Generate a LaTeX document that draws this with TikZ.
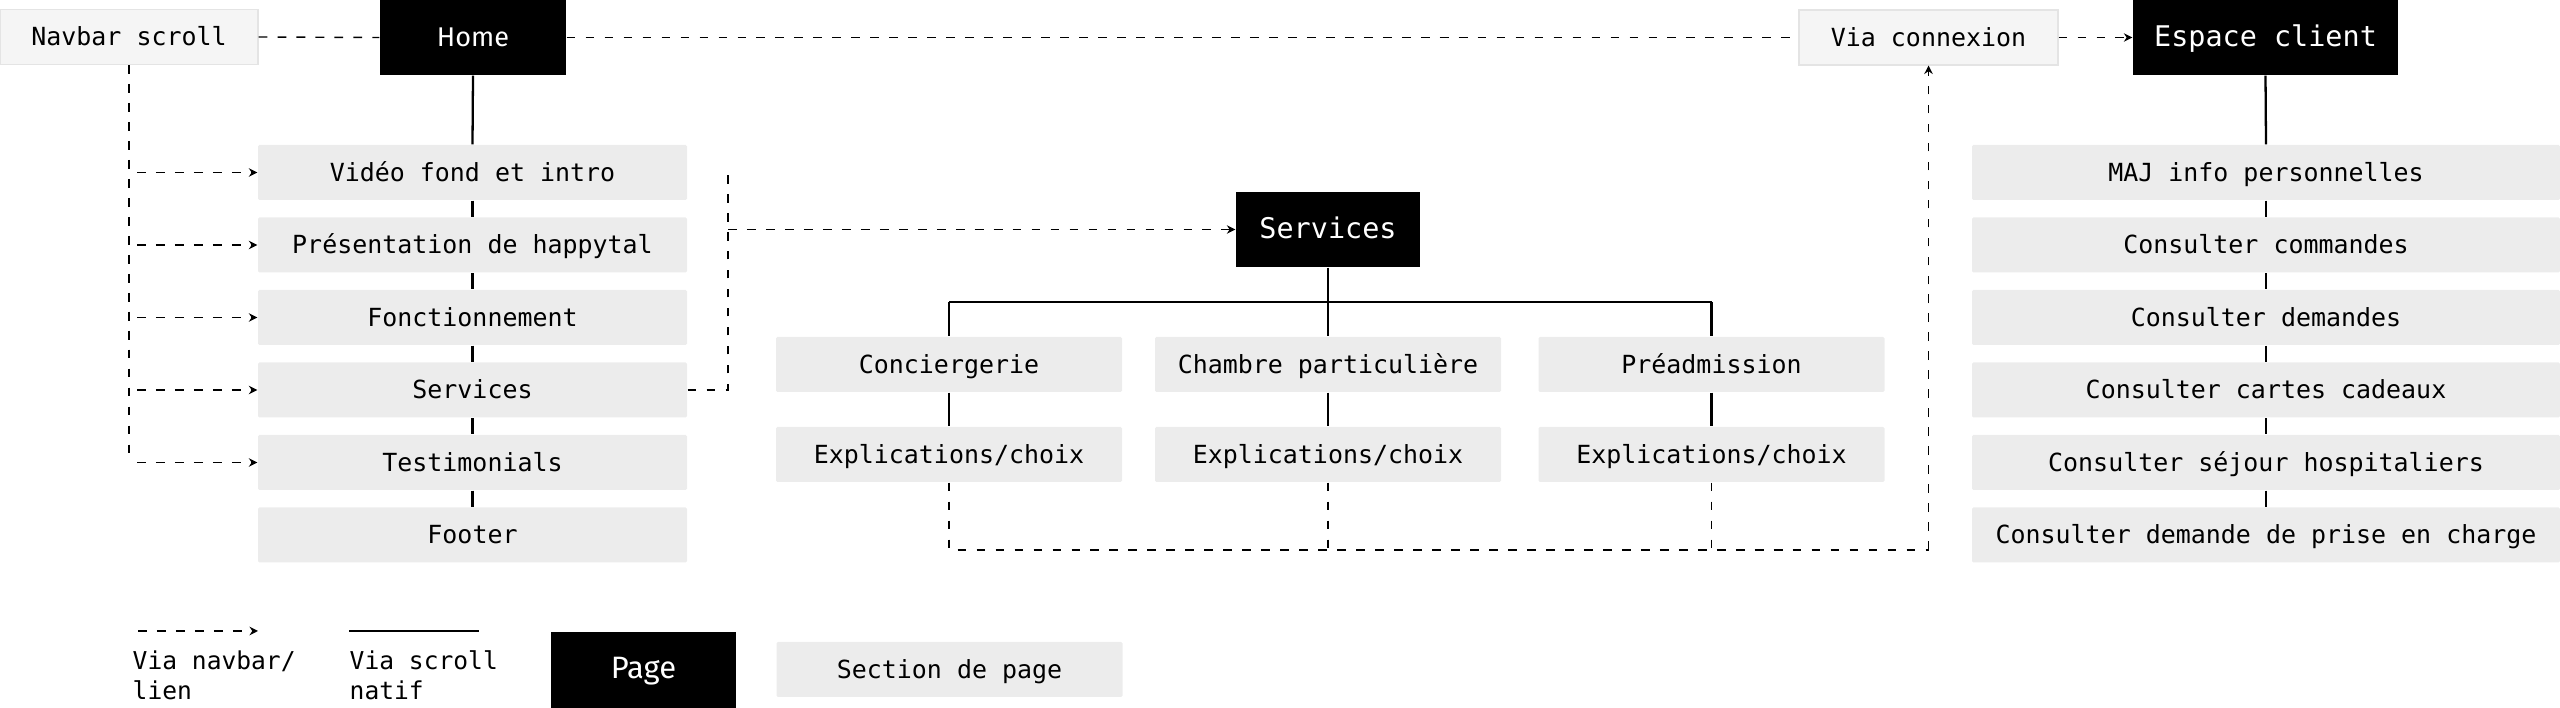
\documentclass[tikz,border=0pt]{standalone}
\usepackage{fontspec}
\setmonofont{DejaVu Sans Mono}
\newfontfamily\firafont{Fira Sans}
\usetikzlibrary{arrows.meta,positioning}

\definecolor{sectiongray}{HTML}{ECECEC}
\definecolor{notegray}{HTML}{F5F5F5}
\definecolor{noteline}{HTML}{E4E4E4}

\tikzset{
    every node/.style={font=\ttfamily\fontsize{7.1}{8.5}\selectfont, inner sep=0pt},
    boxtext/.style={text height=0.73em, text depth=0.24em},
    pagebox/.style={boxtext, fill=black, text=white, minimum height=0.75cm},
    sectionbox/.style={boxtext, fill=sectiongray, rounded corners=0.4pt, minimum height=0.55cm},
    notebox/.style={boxtext, fill=notegray, draw=noteline, line width=0.3pt, minimum height=0.55cm},
    navlink/.style={line width=0.4pt, dash pattern=on 2.5pt off 2.9pt},
    scrolllink/.style={line width=0.65pt},
}

\begin{document}
\begin{tikzpicture}[>={Stealth[length=2.4pt,width=2.4pt]}]
    \useasboundingbox (0,0) rectangle (25.6,-7.08);

    % pages
    \node[notebox, minimum width=2.58cm] (navbar) at (1.29,-0.37) {Navbar scroll};
    \node[pagebox, minimum width=1.86cm, font=\firafont\fontsize{7.7}{9}\selectfont] (home) at (4.73,-0.375) {Home};
    \node[notebox, minimum width=2.59cm] (viacx) at (19.285,-0.375) {Via connexion};
    \node[pagebox, minimum width=2.65cm, font=\ttfamily\fontsize{8.1}{9.5}\selectfont] (espace) at (22.655,-0.375) {Espace client};
    \node[pagebox, minimum width=1.84cm, font=\ttfamily\fontsize{8.1}{9.5}\selectfont] (servp) at (13.28,-2.295) {Services};

    % sections de la home
    \foreach \label [count=\i] in {Vidéo fond et intro, Présentation de happytal, Fonctionnement, Services, Testimonials, Footer}
        \node[sectionbox, minimum width=4.29cm] (sec\i) at (4.725,{-1.725-0.725*(\i-1)}) {\label};

    % sections de l'espace client
    \foreach \label [count=\i] in {MAJ info personnelles, Consulter commandes, Consulter demandes, Consulter cartes cadeaux, Consulter séjour hospitaliers, Consulter demande de prise en charge}
        \node[sectionbox, minimum width=5.88cm] (cli\i) at (22.66,{-1.725-0.725*(\i-1)}) {\label};

    % sections des services
    \foreach \label/\x [count=\i] in {Conciergerie/9.49, Chambre particulière/13.28, Préadmission/17.115}
    {
        \node[sectionbox, minimum width=3.46cm] (sub\i) at (\x,-3.645) {\label};
        \node[sectionbox, minimum width=3.46cm] (expl\i) at (\x,-4.545) {Explications/choix};
    }

    % scroll natif
    \draw[scrolllink] (home.south) -- (sec1.north);
    \draw[scrolllink] (espace.south) -- (cli1.north);
    \foreach \i [evaluate=\i as \j using int(\i+1)] in {1,...,5}
    {
        \draw[scrolllink] (sec\i.south) -- (sec\j.north);
        \draw[scrolllink] (cli\i.south) -- (cli\j.north);
    }
    \coordinate (bus) at (13.28,-3.02);
    \draw[scrolllink] (servp.south) -- (bus);
    \draw[scrolllink, line width=0.75pt] (sub1.north |- bus) -- (sub3.north |- bus);
    \foreach \i in {1,2,3}
    {
        \draw[scrolllink] (sub\i.north |- bus) -- (sub\i.north);
        \draw[scrolllink] (sub\i.south) -- (expl\i.north);
    }

    % navbar / liens
    \draw[navlink] (navbar.east) -- (home.west);
    \draw[navlink] (home.east) -- (viacx.west);
    \draw[navlink,->] (viacx.east) -- (espace.west);
    \draw[navlink] (navbar.south) -- (navbar.south |- sec5.west);
    \foreach \i in {1,...,5}
        \draw[navlink,->] ([xshift=0.08cm]navbar.south |- sec\i.west) -- (sec\i.west);

    \coordinate (kink) at (7.28,-1.725);
    \draw[navlink] (sec4.east) -| (kink);
    \draw[navlink,->] (kink |- servp.west) -- (servp.west);

    \coordinate (retour) at (19.285,-5.50);
    \draw[navlink] (expl1.south) |- (retour);
    \draw[navlink,->] (retour) -- (viacx.south);
    \draw[navlink] (expl2.south) -- (expl2.south |- retour);
    \draw[navlink] (expl3.south) -- (expl3.south |- retour);

    % legende
    \coordinate (navA) at (1.38,-6.31);
    \coordinate (navB) at (2.58,-6.31);
    \draw[navlink,->] (navA) -- (navB);
    \node[anchor=north west, align=left, font=\ttfamily\fontsize{7}{8.5}\selectfont] (legnav) at (1.32,-6.50) {Via navbar/\\lien};
    \coordinate (scrA) at (3.49,-6.31);
    \coordinate (scrB) at (4.79,-6.31);
    \draw[line width=0.85pt] (scrA) -- (scrB);
    \node[anchor=north west, align=left, font=\ttfamily\fontsize{7}{8.5}\selectfont] (legscr) at (3.49,-6.50) {Via scroll\\natif};
    \node[pagebox, minimum width=1.85cm, minimum height=0.76cm, font=\firafont\fontsize{8.8}{10}\selectfont] (legpage) at (6.435,-6.70) {Page};
    \node[sectionbox, minimum width=3.46cm] (legsec) at (9.495,-6.695) {Section de page};

\end{tikzpicture}
\end{document}
